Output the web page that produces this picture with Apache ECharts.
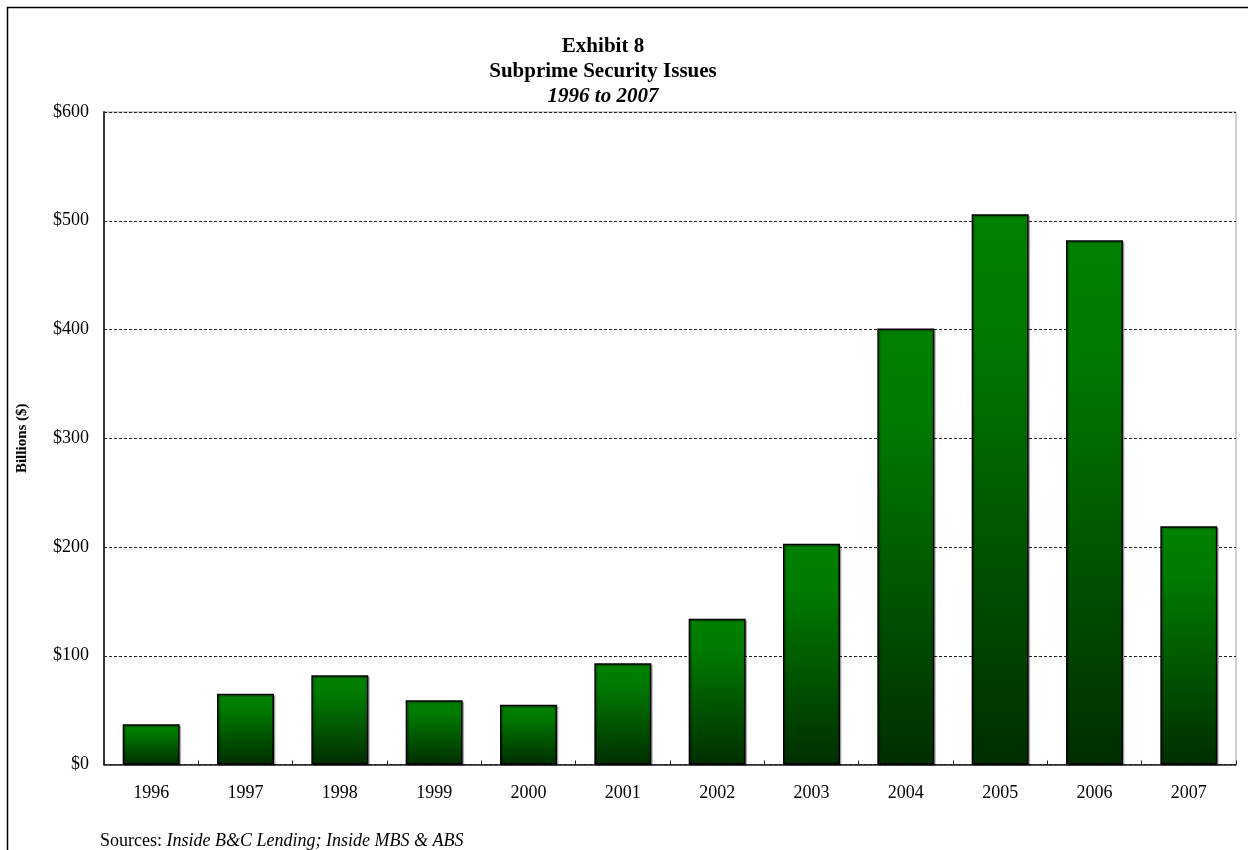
<!DOCTYPE html>
<html>
<head>
<meta charset="utf-8">
<script src="https://cdn.jsdelivr.net/npm/echarts@6/dist/echarts.min.js"></script>
<style>
  html, body { margin: 0; padding: 0; background: #fff; }
  #chart { width: 1248px; height: 850px; }
</style>
</head>
<body>
<div id="chart"></div>
<script>
// Subprime security issuance by year, billions of dollars
const years = ['1996', '1997', '1998', '1999', '2000', '2001', '2002', '2003', '2004', '2005', '2006', '2007'];
const issuance = [37, 65, 82, 59, 55, 93, 134, 203, 401, 506, 482, 219];
const yTicks = [0, 100, 200, 300, 400, 500, 600];

const serif = '"Liberation Serif", "Times New Roman", serif';

const chart = echarts.init(document.getElementById('chart'));

const barFill = new echarts.graphic.LinearGradient(0, 0, 0, 1, [
  { offset: 0, color: '#008000' },
  { offset: 0.2, color: '#007b00' },
  { offset: 1, color: '#002e00' }
]);

chart.setOption({
  animation: false,
  backgroundColor: '#ffffff',
  title: {
    left: 598,
    top: 29,
    textAlign: 'center',
    text: '{a|Exhibit 8}\n{a|Subprime Security Issues}\n{b|1996 to 2007}',
    textStyle: {
      rich: {
        a: { fontFamily: serif, fontSize: 21, fontWeight: 'bold', color: '#000', lineHeight: 25, align: 'center' },
        b: { fontFamily: serif, fontSize: 21, fontWeight: 'bold', fontStyle: 'italic', color: '#000', lineHeight: 25, align: 'center' }
      }
    }
  },
  grid: {
    left: 104,
    right: 12,
    top: 112,
    bottom: 850 - 764.5,
    show: true,
    borderColor: '#a0a0a0',
    borderWidth: 1,
    containLabel: false
  },
  xAxis: {
    type: 'category',
    data: years,
    axisLine: { show: true, lineStyle: { color: '#222', width: 1.5 } },
    axisTick: { show: true, inside: true, length: 4, alignWithLabel: false, lineStyle: { color: '#222', width: 1 } },
    axisLabel: { fontFamily: serif, fontSize: 18, color: '#000', margin: 20 },
    splitLine: { show: false }
  },
  yAxis: {
    type: 'value',
    min: 0,
    max: 600,
    interval: 100,
    name: 'Billions ($)',
    nameLocation: 'middle',
    nameGap: 74,
    nameRotate: 90,
    nameTextStyle: { fontFamily: serif, fontSize: 15, fontWeight: 'bold', color: '#000' },
    axisLine: { show: true, lineStyle: { color: '#333', width: 2 } },
    axisTick: { show: false },
    axisLabel: {
      fontFamily: serif,
      fontSize: 18,
      color: '#000',
      margin: 15,
      formatter: function (v) { return yTicks.indexOf(v) >= 0 ? '$' + v : ''; }
    },
    splitLine: { show: true, lineStyle: { color: '#222', width: 1, type: [3, 2] } }
  },
  series: [{
    type: 'bar',
    data: issuance,
    barWidth: 57,
    itemStyle: {
      color: barFill,
      borderColor: '#000',
      borderWidth: 1.5,
      shadowColor: 'rgba(0,0,0,0.25)',
      shadowOffsetX: 1.5,
      shadowOffsetY: 1.5,
      shadowBlur: 0
    }
  }],
  graphic: [
    {
      type: 'rect',
      shape: { x: 7.5, y: 7.5, width: 1400, height: 1000 },
      style: { fill: null, stroke: '#000', lineWidth: 1.5 },
      silent: true
    },
    {
      type: 'text',
      left: 100,
      top: 832,
      style: {
        text: '{r|Sources: }{i|Inside B&C Lending; Inside MBS & ABS}',
        rich: {
          r: { fontFamily: serif, fontSize: 18, color: '#000' },
          i: { fontFamily: serif, fontSize: 18, fontStyle: 'italic', color: '#000' }
        }
      }
    }
  ]
});
</script>
</body>
</html>
